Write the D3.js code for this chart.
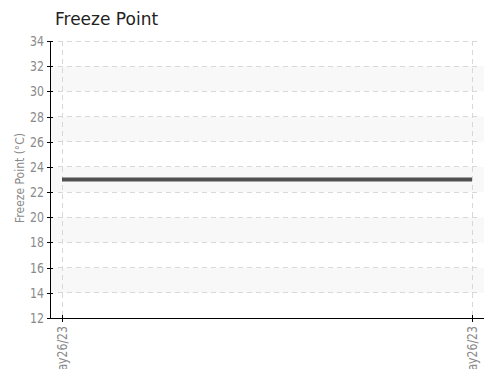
<!DOCTYPE html>
<html lang="en">
<head>
<meta charset="UTF-8">
<title>Freeze Point</title>
<script src="https://cdn.jsdelivr.net/npm/d3@7"></script>
<style>
    body { margin: 0; background: #fff; }
    .axis path, .axis line { fill: none; stroke: #000; shape-rendering: crispEdges; }
    .axis text { font-family: "DejaVu Sans Condensed", "DejaVu Sans", sans-serif; font-size: 14px; fill: #8a8a8a; }
    .grid line { stroke: #d8d8d8; stroke-dasharray: 5,4; shape-rendering: crispEdges; }
</style>
</head>
<body>
<script>
    var times = ["2023-05-26T00:00", "2023-05-26T23:00"];
    var values = [23, 23];
    var yTicks = [12, 14, 16, 18, 20, 22, 24, 26, 28, 30, 32, 34];
    var bands = [[14, 16], [18, 20], [22, 24], [26, 28], [30, 32]];

    var width = 492, height = 369;
    var plotLeft = 50, plotRight = 484, plotTop = 41, plotBottom = 318;

    var parse = d3.timeParse("%Y-%m-%dT%H:%M");
    var dates = times.map(parse);

    var x = d3.scaleTime()
        .domain(d3.extent(dates))
        .range([plotLeft + 12, plotRight - 12]);

    var y = d3.scaleLinear()
        .domain([12, 34])
        .range([plotBottom, plotTop]);

    var svg = d3.select("body").append("svg")
        .attr("width", width)
        .attr("height", height);

    // title
    svg.append("text")
        .attr("x", 55).attr("y", 25)
        .attr("font-family", "DejaVu Sans, sans-serif")
        .attr("font-size", 17)
        .attr("fill", "#222")
        .text("Freeze Point");

    // alternating bands
    svg.append("g").selectAll("rect")
        .data(bands)
        .enter().append("rect")
        .attr("x", plotLeft)
        .attr("y", function(d){ return y(d[1]); })
        .attr("width", plotRight - plotLeft)
        .attr("height", function(d){ return y(d[0]) - y(d[1]); })
        .attr("fill", "#f8f8f8");

    // grid
    var grid = svg.append("g").attr("class", "grid");
    grid.selectAll(".h")
        .data(yTicks.slice(1))
        .enter().append("line")
        .attr("x1", plotLeft + 8).attr("x2", plotRight - 3)
        .attr("y1", function(d){ return y(d); })
        .attr("y2", function(d){ return y(d); });
    grid.selectAll(".v")
        .data(dates)
        .enter().append("line")
        .attr("x1", function(d){ return x(d); })
        .attr("x2", function(d){ return x(d); })
        .attr("y1", plotTop)
        .attr("y2", plotBottom);

    // series line
    var line = d3.line()
        .x(function(d, i){ return x(dates[i]); })
        .y(function(d){ return y(d); });
    svg.append("path")
        .datum(values)
        .attr("d", line)
        .attr("fill", "none")
        .attr("stroke", "#505050")
        .attr("stroke-width", 4);

    // y axis
    var yAxis = d3.axisLeft(y).tickValues(yTicks).tickSizeInner(3).tickSizeOuter(0).tickPadding(3);
    var gy = svg.append("g")
        .attr("class", "axis")
        .attr("transform", "translate(" + plotLeft + ",0)")
        .call(yAxis);
    gy.selectAll(".tick line").attr("x1", -3).attr("x2", 3);
    gy.selectAll(".tick text")
        .attr("textLength", function(d){ return String(d).length * 7; })
        .attr("lengthAdjust", "spacingAndGlyphs");

    // x axis
    var xAxis = d3.axisBottom(x).tickValues(dates).tickSizeInner(3).tickSizeOuter(0)
        .tickFormat(d3.timeFormat("%b%d/%y"));
    var gx = svg.append("g")
        .attr("class", "axis")
        .attr("transform", "translate(0," + plotBottom + ")")
        .call(xAxis);
    gx.select(".domain").attr("d", "M" + plotLeft + ",0H" + plotRight);
    gx.selectAll(".tick line").attr("y1", -3).attr("y2", 4);
    gx.selectAll(".tick text")
        .attr("transform", "rotate(-90)")
        .attr("x", -8).attr("y", 0).attr("dy", "0.35em")
        .attr("textLength", 54)
        .attr("lengthAdjust", "spacingAndGlyphs")
        .style("text-anchor", "end");

    // y label
    svg.append("text")
        .attr("transform", "translate(24," + 178 + ") rotate(-90)")
        .attr("text-anchor", "middle")
        .attr("font-family", "DejaVu Sans Condensed, DejaVu Sans, sans-serif")
        .attr("font-size", 13)
        .attr("textLength", 90)
        .attr("lengthAdjust", "spacingAndGlyphs")
        .attr("fill", "#8a8a8a")
        .text("Freeze Point (°C)");
</script>
</body>
</html>
